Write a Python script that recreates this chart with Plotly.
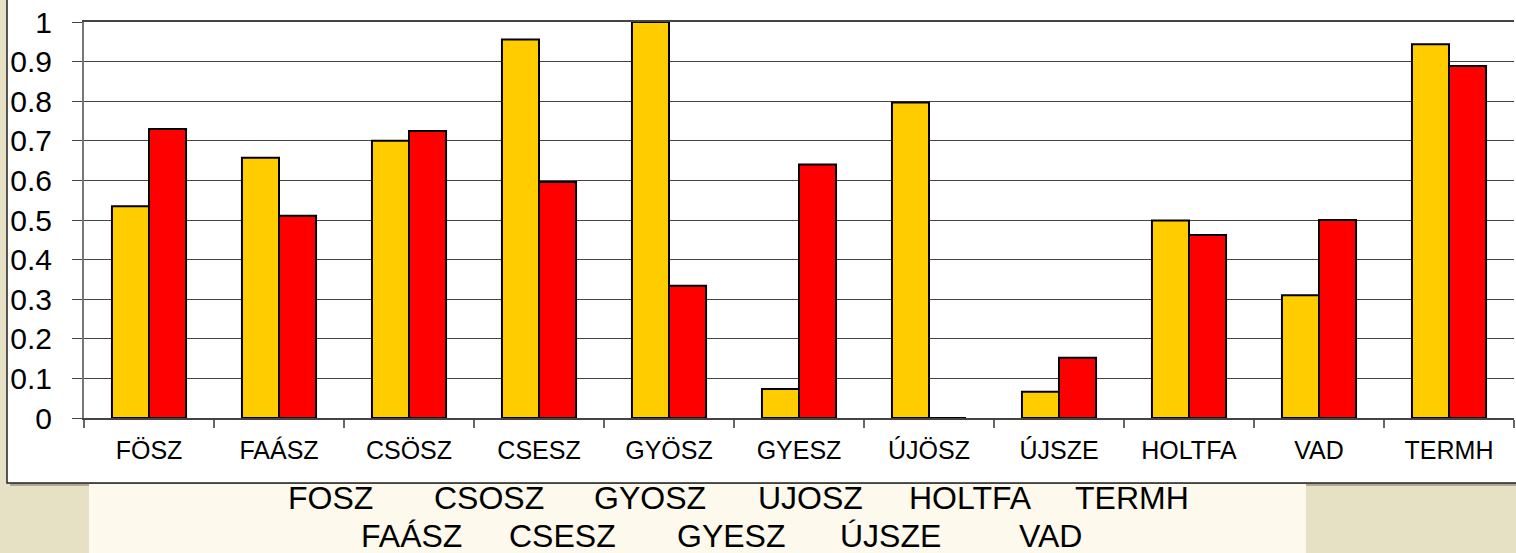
import plotly.graph_objects as go

categories = ["FÖSZ", "FAÁSZ", "CSÖSZ", "CSESZ", "GYÖSZ", "GYESZ",
              "ÚJÖSZ", "ÚJSZE", "HOLTFA", "VAD", "TERMH"]
yellow_vals = [0.535, 0.657, 0.70, 0.956, 1.0, 0.073, 0.797, 0.066, 0.499, 0.31, 0.944]
red_vals = [0.73, 0.511, 0.725, 0.596, 0.334, 0.64, 0.0, 0.152, 0.462, 0.5, 0.889]

line1_words = ["FOSZ", "CSOSZ", "GYOSZ", "UJOSZ", "HOLTFA", "TERMH"]
line2_words = ["FAÁSZ", "CSESZ", "GYESZ", "ÚJSZE", "VAD"]

# pixel centres of the caption words (layout, not data)
line1_px = [330, 489, 650, 810, 971, 1132]
line2_px = [411, 562, 731, 891, 1050]

W, H = 1516, 553
L, R, T, B = 84, 2, 22, 135
PW, PH = W - L - R, H - T - B


def px_x(px):
    return (px - L) / PW


def px_y(py):
    return (H - B - py) / PH


FONT = "Liberation Sans, Arial, sans-serif"

fig = go.Figure()
fig.add_trace(go.Bar(x=categories, y=yellow_vals, marker=dict(color="#FFCC00", line=dict(color="black", width=2))))
fig.add_trace(go.Bar(x=categories, y=red_vals, marker=dict(color="#FF0000", line=dict(color="black", width=2))))

shapes = [
    # soft shadow of the chart box
    dict(type="rect", xref="paper", yref="paper", layer="below",
         x0=px_x(10), x1=px_x(1530), y0=px_y(486), y1=px_y(-10),
         fillcolor="rgba(0,0,0,0.25)", line=dict(width=0)),
    # white chart box
    dict(type="rect", xref="paper", yref="paper", layer="below",
         x0=px_x(7), x1=px_x(1530), y0=px_y(483), y1=px_y(-10),
         fillcolor="white", line=dict(color="#222", width=1.5)),
    # cream caption panel
    dict(type="rect", xref="paper", yref="paper", layer="below",
         x0=px_x(89), x1=px_x(1306), y0=px_y(560), y1=px_y(484),
         fillcolor="#FDF9EC", line=dict(width=0)),
]

annotations = []
for word, px in zip(line1_words, line1_px):
    annotations.append(dict(text=word, x=px_x(px), y=px_y(498), xref="paper", yref="paper",
                            showarrow=False, xanchor="center", yanchor="middle",
                            font=dict(family=FONT, size=32, color="black")))
for word, px in zip(line2_words, line2_px):
    annotations.append(dict(text=word, x=px_x(px), y=px_y(536), xref="paper", yref="paper",
                            showarrow=False, xanchor="center", yanchor="middle",
                            font=dict(family=FONT, size=32, color="black")))

fig.update_layout(
    width=W, height=H,
    margin=dict(l=L, r=R, t=T, b=B),
    paper_bgcolor="#E6E0C4",
    plot_bgcolor="white",
    barmode="group",
    bargap=0.43,
    bargroupgap=0,
    showlegend=False,
    shapes=shapes,
    annotations=annotations,
    font=dict(family=FONT, color="black"),
    xaxis=dict(
        tickson="boundaries", ticks="outside", ticklen=8, tickcolor="#666", tickwidth=2,
        showline=True, linecolor="#444", linewidth=2, mirror=True,
        tickfont=dict(size=25, family=FONT, color="black"),
        ticklabelstandoff=9,
    ),
    yaxis=dict(
        range=[0, 1], dtick=0.1, ticks="outside", ticklen=10, tickcolor="#444",
        showline=True, linecolor="#777", linewidth=2,
        showgrid=True, gridcolor="#444", gridwidth=1, zeroline=False,
        tickfont=dict(size=30, family=FONT, color="black"),
        ticklabelstandoff=14,
    ),
)

# drop the default 8px page margin so the figure fills the window exactly
fig.write_html("out.html", config={"displayModeBar": False},
               post_script="document.body.style.margin='0';document.body.style.overflow='hidden';")
